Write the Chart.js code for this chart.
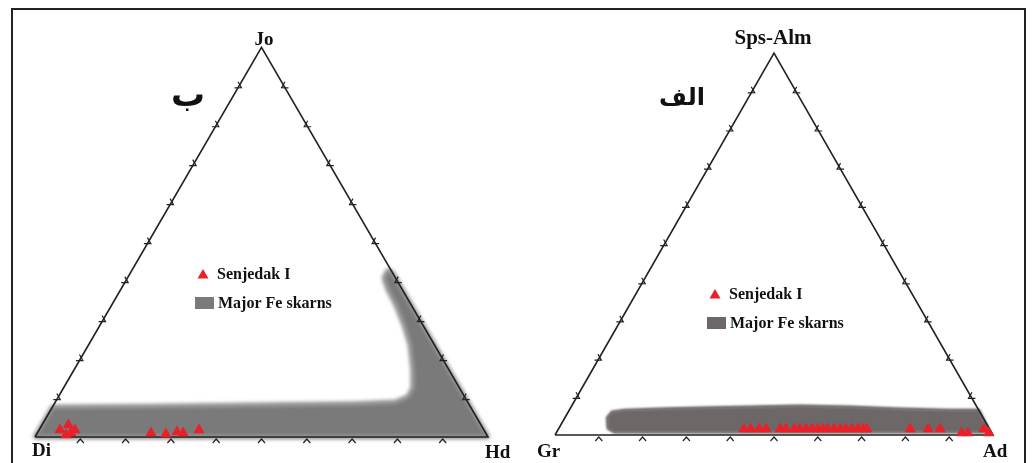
<!DOCTYPE html>
<html>
<head>
<meta charset="utf-8">
<script src="https://cdn.jsdelivr.net/npm/chart.js@4.4.0/dist/chart.umd.min.js"></script>
<style>
  body { margin: 0; background: #fff; width: 1032px; height: 463px; overflow: hidden; position: relative; }
  #frame { position: absolute; left: 11px; top: 8px; width: 1011px; height: 470px; border: 2px solid #222; }
  .box { position: absolute; top: 0; width: 516px; height: 463px; }
</style>
</head>
<body>
<div id="frame"></div>
<div class="box" style="left:0"><canvas id="pyroxene" width="516" height="463"></canvas></div>
<div class="box" style="left:516px"><canvas id="garnet" width="516" height="463"></canvas></div>
<script>
// Pyroxene triangle: Di (left) - Hd (right) - Jo (top), values in mol %
var pxCorners = ['Di', 'Hd', 'Jo'];
var pxHd = [4.6, 5.8, 7.9, 6.6, 7.4, 25.1, 28.5, 30.7, 32.2, 35.3];
var pxJo = [1.8, 3.1, 1.8, 0.5, 1.0, 1.0, 0.8, 1.3, 1.0, 1.8];

// Garnet triangle: Gr (left) - Ad (right) - Sps-Alm (top)
var gtCorners = ['Gr', 'Ad', 'Sps-Alm'];
var gtAd = [42.3, 43.9, 45.8, 47.4, 50.6, 51.9, 53.8, 55.1, 56.5, 57.9, 59.2, 60.4, 61.5, 62.9,
            64.3, 65.6, 67.0, 68.4, 69.5, 70.4, 80.3, 84.4, 87.1, 92.6, 94.0, 97.1, 98.8];
var gtSps = [1.6, 1.6, 1.6, 1.6, 1.6, 1.6, 1.6, 1.6, 1.6, 1.6, 1.6, 1.6, 1.6, 1.6,
             1.6, 1.6, 1.6, 1.6, 1.6, 1.6, 1.6, 1.6, 1.6, 0.5, 0.5, 1.6, 0.5];

// Major Fe skarn fields, outlines as (right corner %, top corner %)
var pxFieldHd = [0, 100, 57.7, 56.5, 56.6, 59.1, 62.8, 67.1, 71.0, 74.8, 77.1, 77.2, 75.0, 65.3, 43.4, 21.4, 0];
var pxFieldJo = [0, 0, 42.3, 42.8, 40.8, 37.7, 33.8, 28.7, 23.6, 17.2, 12.6, 10.3, 9.0, 8.5, 8.2, 7.9, 7.7];
var gtFieldAd = [11.2, 9.7, 10.0, 12.7, 20.6, 29.6, 40.8, 52.1, 63.7, 75.4, 86.9, 93.5, 98.8, 32.7, 13.1];
var gtFieldSps = [1.8, 4.5, 6.0, 6.5, 6.8, 7.1, 7.3, 7.6, 7.3, 6.8, 6.5, 6.5, 0.8, 0.8, 0.8];

var tickSteps = [10, 20, 30, 40, 50, 60, 70, 80, 90];
var sampleLabel = 'Senjedak I';
var fieldLabel = 'Major Fe skarns';

var H = Math.sqrt(3) / 2;
function toXY(right, top) {
  var r = right / 100, t = top / 100;
  return { x: r + t / 2, y: t * H };
}
function points(rightArr, topArr) {
  return rightArr.map(function (r, i) { return toXY(r, topArr[i]); });
}

function chevron(ctx, px, py, ux, uy, nx, ny, off, h, w) {
  // apex near the edge, arms opening away along the normal
  ctx.beginPath();
  ctx.moveTo(px + nx * (off + h) - ux * w, py + ny * (off + h) - uy * w);
  ctx.lineTo(px + nx * off, py + ny * off);
  ctx.lineTo(px + nx * (off + h) + ux * w, py + ny * (off + h) + uy * w);
  ctx.stroke();
}

function ternaryPlugin(cfg) {
  return {
    id: 'ternary',
    beforeDatasetsDraw: function (chart) {
      var ctx = chart.ctx, xs = chart.scales.x, ys = chart.scales.y;
      ctx.save();
      ctx.filter = 'blur(' + cfg.blur + 'px)';
      ctx.fillStyle = cfg.fieldColor;
      ctx.strokeStyle = cfg.fieldColor;
      ctx.lineJoin = 'round';
      ctx.lineWidth = 3;
      ctx.beginPath();
      points(cfg.fieldRight, cfg.fieldTop).forEach(function (p, i) {
        var x = xs.getPixelForValue(p.x), y = ys.getPixelForValue(p.y);
        if (i) ctx.lineTo(x, y); else ctx.moveTo(x, y);
      });
      ctx.closePath();
      ctx.fill();
      ctx.stroke();
      ctx.restore();
    },
    afterDatasetsDraw: function (chart) {
      var ctx = chart.ctx, xs = chart.scales.x, ys = chart.scales.y;
      var c = [toXY(0, 0), toXY(100, 0), toXY(0, 100)].map(function (p) {
        return { x: xs.getPixelForValue(p.x), y: ys.getPixelForValue(p.y) };
      });
      var cx = (c[0].x + c[1].x + c[2].x) / 3, cy = (c[0].y + c[1].y + c[2].y) / 3;
      ctx.save();
      ctx.strokeStyle = '#222';
      ctx.lineWidth = 1.2;
      [[0, 1], [1, 2], [2, 0]].forEach(function (e, k) {
        var a = c[e[0]], b = c[e[1]];
        var dx = b.x - a.x, dy = b.y - a.y, len = Math.hypot(dx, dy);
        var ux = dx / len, uy = dy / len;
        var nx = -uy, ny = ux;
        var mx = (a.x + b.x) / 2, my = (a.y + b.y) / 2;
        if ((cx - mx) * nx + (cy - my) * ny > 0) { nx = -nx; ny = -ny; }
        tickSteps.forEach(function (s) {
          var px = a.x + dx * s / 100, py = a.y + dy * s / 100;
          if (k === 0) chevron(ctx, px, py, ux, uy, nx, ny, 2, 4, 3.5);
          else chevron(ctx, px, py, ux, uy, nx, ny, -3, 6, 3.5);
        });
      });
      ctx.restore();
    },
    afterDraw: function (chart) {
      var ctx = chart.ctx;
      ctx.save();
      ctx.fillStyle = '#111';
      ctx.textBaseline = 'alphabetic';
      ctx.font = 'bold 19px "Liberation Serif"';
      ctx.textAlign = 'left';
      ctx.fillText(cfg.corners[0], cfg.leftLabel[0], cfg.leftLabel[1]);
      ctx.fillText(cfg.corners[1], cfg.rightLabel[0], cfg.rightLabel[1]);
      ctx.font = 'bold ' + cfg.topSize + 'px "Liberation Serif"';
      ctx.textAlign = 'center';
      ctx.fillText(cfg.corners[2], cfg.topLabel[0], cfg.topLabel[1]);

      ctx.font = 'bold ' + cfg.titleSize + 'px "DejaVu Sans"';
      ctx.textBaseline = 'middle';
      ctx.fillText(cfg.title, cfg.titlePos[0], cfg.titlePos[1]);

      // legend
      var lx = cfg.legend[0], ly = cfg.legend[1];
      ctx.fillStyle = '#e8202a';
      ctx.beginPath();
      ctx.moveTo(lx + 8, ly - 5);
      ctx.lineTo(lx + 13.5, ly + 4.5);
      ctx.lineTo(lx + 2.5, ly + 4.5);
      ctx.closePath();
      ctx.fill();
      ctx.fillStyle = cfg.fieldColor;
      ctx.fillRect(lx, ly + 23, 19, 12);
      ctx.fillStyle = '#111';
      ctx.textAlign = 'left';
      ctx.font = 'bold 16px "Liberation Serif"';
      ctx.fillText(sampleLabel, lx + 22, ly + 1);
      ctx.fillText(fieldLabel, lx + 23, ly + 30);
      ctx.restore();
    }
  };
}

function makeChart(id, samples, cfg) {
  var outline = [toXY(0, 0), toXY(100, 0), toXY(0, 100), toXY(0, 0)];
  return new Chart(document.getElementById(id), {
    type: 'scatter',
    data: {
      datasets: [
        {
          label: sampleLabel,
          data: samples,
          pointStyle: 'triangle',
          pointRadius: 6.5,
          backgroundColor: '#e8202a',
          borderWidth: 0
        },
        {
          label: 'outline',
          data: outline,
          showLine: true,
          borderColor: '#222',
          borderWidth: 1.6,
          pointRadius: 0
        }
      ]
    },
    options: {
      responsive: false,
      animation: false,
      layout: { padding: 0, autoPadding: false },
      plugins: { legend: { display: false }, tooltip: { enabled: false } },
      scales: {
        x: { type: 'linear', display: false, min: cfg.xMin, max: cfg.xMax },
        y: { type: 'linear', display: false, min: cfg.yMin, max: cfg.yMax }
      }
    },
    plugins: [ternaryPlugin(cfg)]
  });
}

makeChart('pyroxene', points(pxHd, pxJo), {
  xMin: -35 / 453, xMax: 481 / 453, yMin: -26 / 450, yMax: 437 / 450,
  corners: pxCorners, fieldRight: pxFieldHd, fieldTop: pxFieldJo,
  fieldColor: '#7a7a7a', blur: 2,
  leftLabel: [32, 456], rightLabel: [485, 458], topLabel: [264, 45], topSize: 19,
  title: 'ب', titleSize: 34, titlePos: [188, 97], legend: [195, 274]
});

makeChart('garnet', points(gtAd, gtSps), {
  xMin: -39 / 438, xMax: 477 / 438, yMin: -28 / 441, yMax: 435 / 441,
  corners: gtCorners, fieldRight: gtFieldAd, fieldTop: gtFieldSps,
  fieldColor: '#6d6767', blur: 1,
  leftLabel: [21, 457], rightLabel: [467, 457], topLabel: [257, 44], topSize: 21,
  title: 'الف', titleSize: 24, titlePos: [166, 99], legend: [191, 294]
});
</script>
</body>
</html>
